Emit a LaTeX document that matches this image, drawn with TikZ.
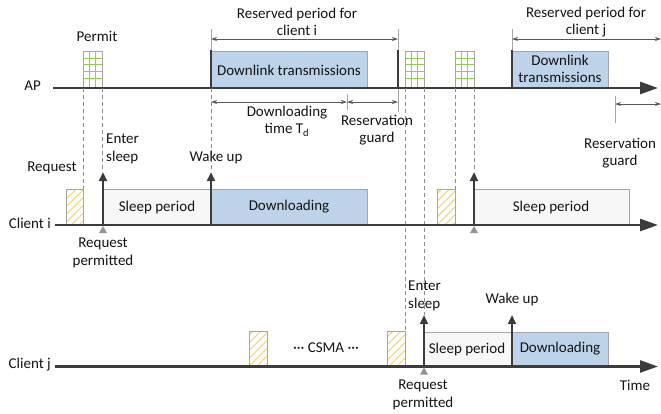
\documentclass[tikz,border=0pt]{standalone}
\usepackage{fontspec}
\setmainfont{Carlito}
\usetikzlibrary{arrows.meta,patterns.meta}
\definecolor{axisc}{HTML}{3C3C3C}
\definecolor{bluef}{HTML}{BDD3E9}
\definecolor{sleepf}{HTML}{F7F7F7}
\definecolor{boxd}{HTML}{A6A6A6}
\definecolor{gridg}{HTML}{8FD14F}
\definecolor{hatchy}{HTML}{F5CF5C}
\definecolor{measc}{HTML}{595959}
\definecolor{dashc}{HTML}{8C8C8C}
\tikzset{
  lbl/.style={font=\fontsize{15}{17.5}\selectfont, inner sep=0pt, align=center, text=black!92},
  timeaxis/.style={line width=2.6pt, draw=axisc, -{Triangle[length=18pt,width=12pt]}},
  bluebox/.style={draw=boxd, fill=bluef, line width=0.8pt},
  sleepbox/.style={draw=boxd, fill=sleepf, line width=0.8pt},
  reqbox/.style={draw=boxd, line width=0.8pt, pattern={Lines[angle=45,distance=5.5pt,line width=0.9pt]}, pattern color=hatchy},
  permitbox/.style={draw=boxd, line width=0.8pt},
  gridline/.style={draw=gridg, line width=0.8pt},
  upar/.style={line width=2.5pt, draw=axisc, -{Triangle[length=9pt,width=8pt]}},
  marker/.style={fill=gray!85, draw=none},
  meas/.style={draw=measc, line width=0.8pt, {Stealth[length=6pt,width=4pt]}-{Stealth[length=6pt,width=4pt]}},
  guide/.style={draw=boxd, line width=0.8pt},
  dguide/.style={draw=dashc, line width=0.7pt, dash pattern=on 4pt off 3pt},
  bar/.style={line width=2.5pt, draw=axisc}
}
\newcommand{\mydots}{\textperiodcentered\textperiodcentered\textperiodcentered}
\begin{document}
\begin{tikzpicture}[x=1pt,y=-1pt]
\useasboundingbox (0,0) rectangle (661,413);
% ---------- coordinates ----------
\coordinate (apS) at (53,88);   \coordinate (apE) at (658,88);
\coordinate (ciS) at (55,225);  \coordinate (ciE) at (658,225);
\coordinate (cjS) at (55,366.5);\coordinate (cjE) at (658,366.5);

% ---------- AP row ----------
\foreach \x in {83,405,455} {
  \foreach \i in {1,2} \draw[gridline] (\x+6.4*\i,51) -- (\x+6.4*\i,88);
  \foreach \j in {1,...,4} \draw[gridline] (\x,51+6.9*\j) -- (\x+19.2,51+6.9*\j);
  \draw[permitbox] (\x,51) rectangle (\x+19.2,88);
}
\draw[bluebox] (211,51) rectangle (367,88);
\draw[bluebox] (512,51) rectangle (608,88);
\draw[guide] (211,29) -- (211,51);
\draw[guide] (398,29) -- (398,51);
\draw[guide] (512,29) -- (512,51);
\draw[guide] (398,88) -- (398,112);
\draw[guide] (347,94) -- (347,110);
\draw[guide] (615,96) -- (615,123);
\draw[bar] (211,50) -- (211,88);
\draw[bar] (398,50) -- (398,88);
\draw[bar] (512,50) -- (512,88);
\draw[timeaxis] (apS) -- (apE);

\coordinate (m1a) at (211,39); \coordinate (m1b) at (398,39);
\coordinate (m2a) at (512,39); \coordinate (m2b) at (661,39);
\coordinate (m3a) at (211,102); \coordinate (m3b) at (347,102); \coordinate (m3c) at (398,102);
\coordinate (m4a) at (615,104); \coordinate (m4b) at (661,104);
\draw[meas] (m1a) -- (m1b);
\draw[meas] (m2a) -- (m2b);
\draw[meas] (m3a) -- (m3b);
\draw[meas] (m3b) -- (m3c);
\draw[meas] (m4a) -- (m4b);

% dashed guides
\draw[dguide] (83,88) -- (83,189);
\draw[dguide] (102.2,88) -- (102.2,172);
\draw[dguide] (211,88) -- (211,172);
\draw[dguide] (405,88) -- (405,331);
\draw[dguide] (424.2,88) -- (424.2,315);
\draw[dguide] (455,88) -- (455,189);
\draw[dguide] (474.2,88) -- (474.2,172);

% ---------- Client i ----------
\draw[reqbox] (66,189) rectangle (83,225);
\draw[sleepbox] (103,189) rectangle (211,225);
\draw[bluebox] (211,189) rectangle (367,225);
\draw[reqbox] (437,189) rectangle (455,225);
\draw[sleepbox] (474,189) rectangle (629,225);
\draw[timeaxis] (ciS) -- (ciE);
\draw[upar] (103,225) -- (103,172);
\draw[upar] (211,225) -- (211,172);
\draw[upar] (474,225) -- (474,172);
\fill[marker] (103,226) -- (107,233) -- (99,233) -- cycle;
\fill[marker] (474,226) -- (478,233) -- (470,233) -- cycle;

% ---------- Client j ----------
\draw[reqbox] (249,331) rectangle (267,366.5);
\draw[reqbox] (387,331) rectangle (405,366.5);
\draw[sleepbox] (424,332) rectangle (512,366.5);
\draw[bluebox] (512,332) rectangle (608,366.5);
\draw[timeaxis] (cjS) -- (cjE);
\draw[upar] (424,366.5) -- (424,315);
\draw[upar] (512,366.5) -- (512,315);
\fill[marker] (424,367.5) -- (428,374.5) -- (420,374.5) -- cycle;

% ---------- labels ----------
\node[lbl, anchor=east] (tAP) at (41,86) {AP};
\node[lbl, anchor=east] (tCi) at (51,223) {Client i};
\node[lbl, anchor=east] (tCj) at (51,365) {Client j};
\node[lbl] (tPermit) at (97,36) {Permit};
\node[lbl] (tRPi) at (297,22) {Reserved period for\\client i};
\node[lbl] (tRPj) at (586,22) {Reserved period for\\client j};
\node[lbl] (tDLi) at (289,70) {Downlink transmissions};
\node[lbl] (tDLj) at (560,69) {Downlink\\transmissions};
\node[lbl] (tTd) at (287,121) {Downloading\\time T\textsubscript{d}};
\node[lbl] (tRG1) at (377,130) {Reservation\\guard};
\node[lbl] (tRG2) at (620,153) {Reservation\\guard};
\node[lbl] (tReq) at (52,168) {Request};
\node[lbl, align=left, anchor=west] (tES1) at (106,149) {Enter\\sleep};
\node[lbl] (tWU1) at (216,157) {Wake up};
\node[lbl] (tSP1) at (157,207) {Sleep period};
\node[lbl] (tDo1) at (289,207) {Downloading};
\node[lbl] (tRP1) at (103,253) {Request\\permitted};
\node[lbl] (tSP2) at (551,207) {Sleep period};
\node[lbl] (tCSMA) at (326,348) {\mydots{} CSMA \mydots};
\node[lbl, align=left, anchor=west] (tES2) at (408,296) {Enter\\sleep};
\node[lbl] (tWU2) at (512,299) {Wake up};
\node[lbl] (tSP3) at (467,349) {Sleep period};
\node[lbl] (tDo2) at (560,349) {Downloading};
\node[lbl] (tRP2) at (423,395) {Request\\permitted};
\node[lbl] (tTime) at (635,385) {Time};
\end{tikzpicture}
\end{document}
